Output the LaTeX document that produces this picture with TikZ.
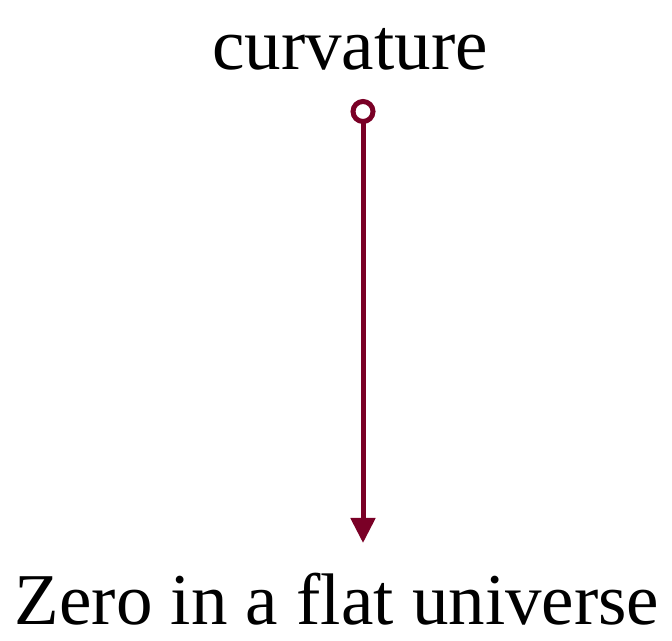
\documentclass[tikz,border=0pt]{standalone}
\usepackage{fontspec}
\setmainfont{Liberation Serif}
\usetikzlibrary{arrows.meta}
\definecolor{darkred}{HTML}{7A0026}
\tikzset{
  label text/.style={font=\fontsize{73}{86}\selectfont, anchor=base, text depth=0pt},
  pointer/.style={darkred, line width=5pt, {Circle[open,length=25pt,width=25pt,line width=5pt]}-{Triangle[length=25pt,width=24pt]}}
}
\begin{document}
\begin{tikzpicture}[x=1pt,y=1pt]
  \useasboundingbox (0,0) rectangle (672,640);
  \node[label text] (curv) at (350,570) {curvature};
  \node[label text] (zero) at (337,16) {Zero in a flat universe};
  \coordinate (from) at (363,541);
  \coordinate (to) at (363,97);
  \draw[pointer] (from) -- (to);
\end{tikzpicture}
\end{document}
